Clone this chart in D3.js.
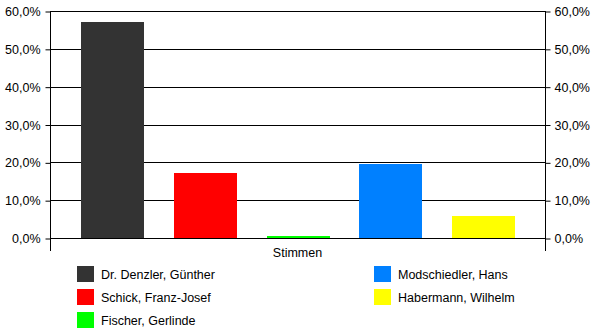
<!DOCTYPE html>
<html>
<head>
<meta charset="utf-8">
<script src="https://cdn.jsdelivr.net/npm/d3@7"></script>
<style>
  html, body { margin: 0; padding: 0; background: #fff; }
  svg { display: block; }
  text { font-family: "Liberation Sans", Arial, sans-serif; font-size: 12.5px; fill: #000; }
</style>
</head>
<body>
<svg id="chart" width="600" height="333"></svg>
<script>
// ---- data ----
const candidates = ["Dr. Denzler, Günther", "Schick, Franz-Josef", "Fischer, Gerlinde", "Modschiedler, Hans", "Habermann, Wilhelm"];
const shares = [0.572, 0.172, 0.006, 0.196, 0.059];
const colors = ["#333333", "#ff0000", "#00ff00", "#0080ff", "#ffff00"];
const category = "Stimmen";
const yTicks = [0, 0.1, 0.2, 0.3, 0.4, 0.5, 0.6];
const legendOrder = [0, 3, 1, 4, 2]; // two columns, row-major

// ---- layout ----
const plotL = 50, plotR = 545, plotT = 11, plotB = 238;
const svg = d3.select("#chart");

const locale = d3.formatLocale({ decimal: ",", thousands: ".", grouping: [3], currency: ["", " €"] });
const fmt = v => locale.format(".1f")(v * 100) + "%";

const y = d3.scaleLinear().domain([0, 0.6]).range([plotB, plotT]);
const x = d3.scaleBand().domain(candidates).range([plotL + 1, plotR]).paddingInner(0.3226).paddingOuter(0.3226);

// gridlines
svg.append("g").selectAll("line").data(yTicks).join("line")
  .attr("x1", plotL).attr("x2", plotR)
  .attr("y1", d => Math.round(y(d)) + 0.5).attr("y2", d => Math.round(y(d)) + 0.5)
  .attr("stroke", "#000").attr("stroke-width", 1);

// bars
svg.append("g").selectAll("rect").data(candidates).join("rect")
  .attr("x", d => Math.round(x(d)))
  .attr("width", Math.round(x.bandwidth()))
  .attr("y", (d, i) => Math.round(y(shares[i])))
  .attr("height", (d, i) => Math.round(y(0)) - Math.round(y(shares[i])))
  .attr("fill", (d, i) => colors[i]);

// axes
const leftAxis = d3.axisLeft(y).tickValues(yTicks).tickFormat(fmt).tickSize(5).tickPadding(5);
const rightAxis = d3.axisRight(y).tickValues(yTicks).tickFormat(fmt).tickSize(5).tickPadding(4);

const gl = svg.append("g").attr("transform", `translate(${plotL + 0.5},0.5)`).call(leftAxis);
const gr = svg.append("g").attr("transform", `translate(${plotR + 0.5},0.5)`).call(rightAxis);
[gl, gr].forEach(g => {
  g.select(".domain").remove();
  g.selectAll("line").attr("stroke", "#000");
  g.selectAll("text").attr("font-family", "Liberation Sans, Arial, sans-serif").attr("font-size", 12.5).attr("fill", "#000");
});
// vertical axis lines extended below zero (category edge ticks)
[plotL, plotR].forEach(px => {
  svg.append("line").attr("x1", px + 0.5).attr("x2", px + 0.5)
    .attr("y1", plotT).attr("y2", 251).attr("stroke", "#000");
});

// category label
svg.append("text").attr("x", (plotL + plotR) / 2).attr("y", 257)
  .attr("text-anchor", "middle").text(category);

// legend
const colX = [77, 374];
const rowY = [266, 289, 312];
legendOrder.forEach((ci, k) => {
  const col = k % 2, row = Math.floor(k / 2);
  const g = svg.append("g").attr("transform", `translate(${colX[col]},${rowY[row]})`);
  g.append("rect").attr("width", 17).attr("height", 16).attr("fill", colors[ci]);
  g.append("text").attr("x", 24).attr("y", 12.5).text(candidates[ci]);
});
</script>
</body>
</html>
